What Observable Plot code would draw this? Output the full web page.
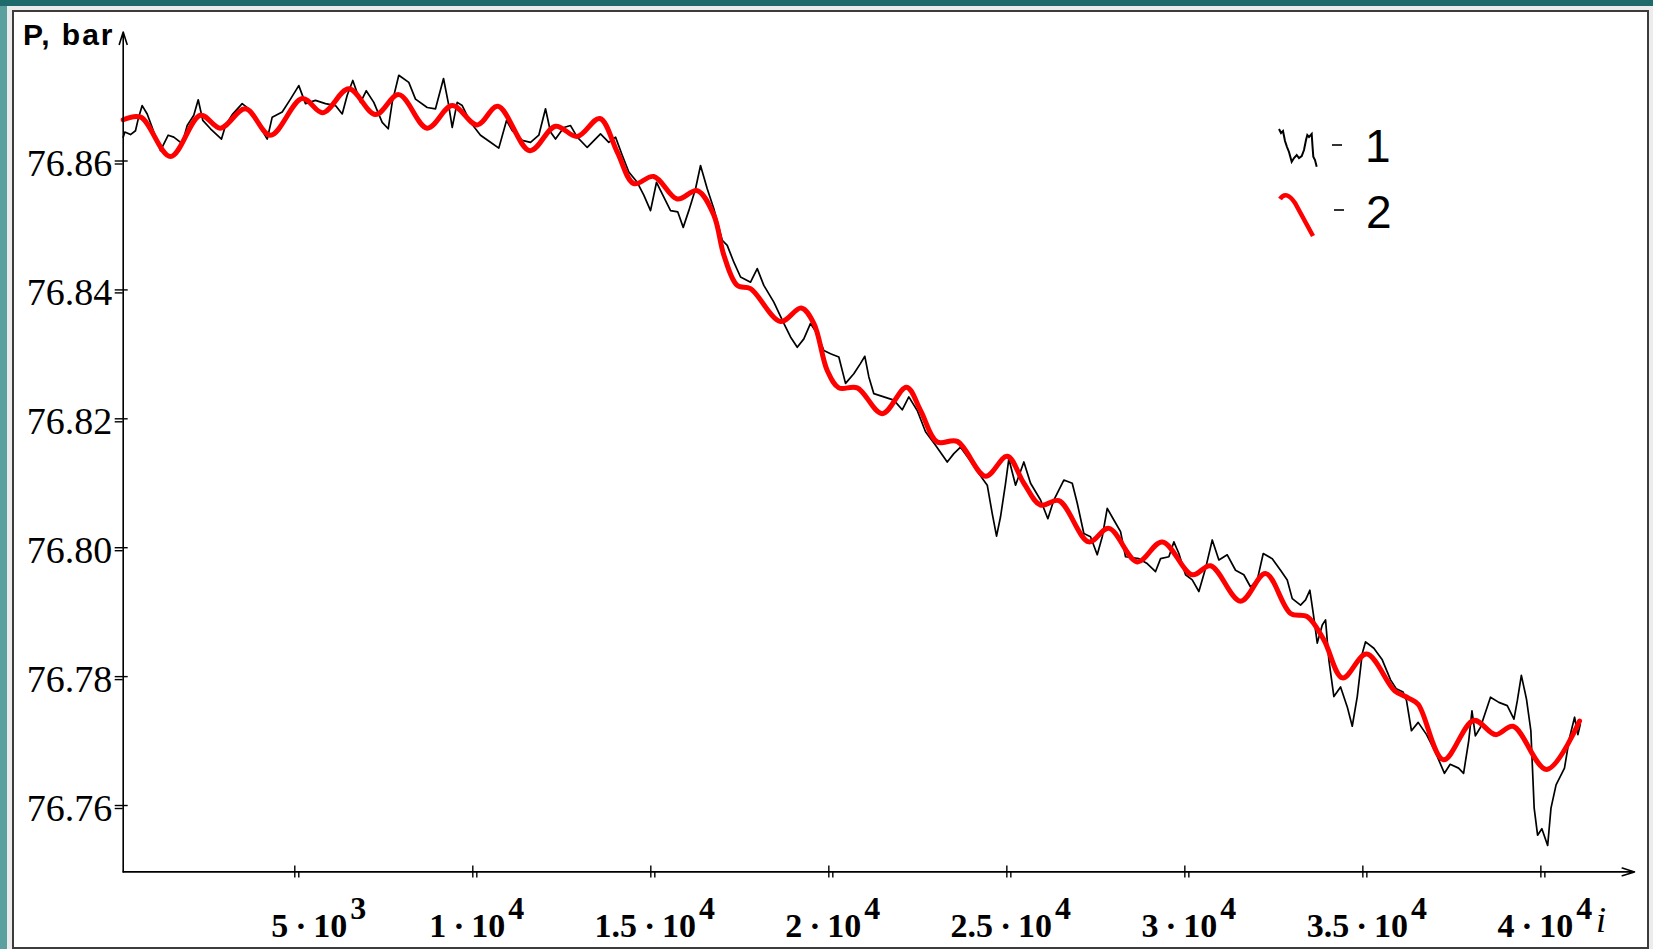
<!DOCTYPE html>
<html><head><meta charset="utf-8">
<script src="https://cdn.jsdelivr.net/npm/d3@7"></script>
<script src="https://cdn.jsdelivr.net/npm/@observablehq/plot@0.6"></script>
<style>
html,body{margin:0;padding:0;}
body{width:1653px;height:949px;position:relative;overflow:hidden;background:#5b9f9f;}
#topband{position:absolute;left:0;top:0;width:1653px;height:6px;background:#1f6b6b;}
#panel{position:absolute;left:7px;top:6px;width:1646px;height:943px;background:#ececec;}
#frame{position:absolute;left:12px;top:10px;width:1633px;height:935px;border:2px solid #3c3c3c;background:#fff;}
#chart{position:absolute;left:0;top:0;}
#overlay{position:absolute;left:0;top:0;}
</style></head>
<body>
<div id="topband"></div>
<div id="panel"></div>
<div id="frame"></div>
<div id="chart"></div>
<svg id="overlay" width="1653" height="949" xmlns="http://www.w3.org/2000/svg">
  <text x="23" y="45" font-family="Liberation Sans, Arial, sans-serif" font-weight="bold" font-size="30" letter-spacing="2" fill="#000">P, bar</text>
  <path d="M1279,129 L1281,133 1283,131 1285,141 1287,147 1289,152 1291.7,161.7 1294,158 1296.7,155 1299,158 1301.7,156 1304,150 1306,140 1307.3,135 1309,137 1311.7,134 1312.5,146 1313.3,156.7 1315,160 1316.7,166.7" fill="none" stroke="#000" stroke-width="2"/>
  <line x1="1332" y1="145" x2="1342" y2="145" stroke="#000" stroke-width="1.6"/>
  <text x="1365" y="162" font-family="Liberation Sans, Arial, sans-serif" font-size="46" fill="#000">1</text>
  <path d="M1280,199 C1284,193 1289,194 1295,203 L1313,236" fill="none" stroke="#ff0000" stroke-width="4.5"/>
  <line x1="1334" y1="210" x2="1344" y2="210" stroke="#000" stroke-width="1.6"/>
  <text x="1366" y="228" font-family="Liberation Sans, Arial, sans-serif" font-size="46" fill="#000">2</text>
  <text x="1596" y="932" font-family="Liberation Serif, serif" font-style="italic" font-size="36" fill="#000">i</text>
</svg>
<script>
// ---- data ----
const seriesNames = ["1", "2"];
const blackI = [180,225,385,525,601,713,854,994,1228,1444,1601,1837,1978,2163,2287,2416,2632,2941,3053,3242,3522,3708,3896,4225,4365,4646,4879,5112,5301,5581,5862,6143,6332,6472,6629,6846,7006,7219,7455,7624,7736,7921,8202,8390,8719,8952,9177,9309,9421,9562,9702,9935,10216,10497,10730,10947,11107,11388,11621,11854,12042,12183,12323,12556,12745,12933,13214,13587,13820,14009,14197,14382,14618,14803,14992,15160,15320,15554,15758,15910,16067,16256,16396,16584,16770,17006,17146,17332,17520,17801,17989,18174,18455,18736,18924,19113,19298,19486,19674,19860,20048,20281,20469,20702,20891,21011,21124,21264,21545,21826,22062,22247,22483,22716,22997,23326,23511,23699,23933,24213,24450,24590,24711,24823,24964,25056,25245,25478,25666,25947,26152,26320,26601,26837,26978,27163,27351,27539,27680,27820,28006,28194,28334,28708,28928,29177,29318,29551,29691,29832,30020,30208,30394,30582,30770,30956,31191,31424,31657,31846,32034,32202,32455,32688,32876,33017,33250,33391,33511,33607,33719,33860,33952,34045,34186,34374,34562,34702,34843,34983,35076,35309,35545,35778,35941,36130,36225,36365,36554,36789,37028,37292,37452,37689,37829,37972,38065,38160,38301,38585,38820,39056,39244,39340,39452,39596,39719,39812,39908,40028,40191,40284,40427,40663,40804,40947,41040,41107];
const blackP = [76.8637,76.8645,76.8641,76.8647,76.8665,76.8686,76.8673,76.8652,76.8616,76.8640,76.8637,76.8627,76.8655,76.8671,76.8695,76.8663,76.8650,76.8634,76.8655,76.8672,76.8689,76.8681,76.8665,76.8634,76.8668,76.8676,76.8696,76.8717,76.8689,76.8694,76.8689,76.8686,76.8673,76.8702,76.8725,76.8691,76.8709,76.8691,76.8660,76.8650,76.8691,76.8733,76.8722,76.8696,76.8683,76.8681,76.8728,76.8691,76.8652,76.8691,76.8686,76.8660,76.8640,76.8629,76.8620,76.8663,76.8647,76.8632,76.8629,76.8640,76.8681,76.8645,76.8634,76.8652,76.8655,76.8637,76.8621,76.8642,76.8629,76.8637,76.8609,76.8583,76.8567,76.8547,76.8523,76.8567,76.8549,76.8523,76.8521,76.8497,76.8523,76.8557,76.8593,76.8557,76.8526,76.8477,76.8469,76.8443,76.8420,76.8412,76.8433,76.8407,76.8381,76.8348,76.8327,76.8311,76.8324,76.8348,76.8332,76.8306,76.8301,76.8296,76.8255,76.8270,76.8286,76.8297,76.8265,76.8239,76.8234,76.8229,76.8214,76.8234,76.8213,76.8180,76.8159,76.8133,76.8146,76.8156,76.8138,76.8115,76.8097,76.8053,76.8018,76.8048,76.8100,76.8138,76.8097,76.8133,76.8100,76.8074,76.8045,76.8074,76.8105,76.8100,76.8069,76.8022,76.8017,76.7989,76.8017,76.8061,76.8043,76.8025,76.7986,76.7983,76.7976,76.7963,76.7983,76.7986,76.8009,76.7991,76.7958,76.7950,76.7932,76.7968,76.8012,76.7981,76.7989,76.7965,76.7958,76.7939,76.7950,76.7991,76.7983,76.7965,76.7950,76.7921,76.7911,76.7919,76.7934,76.7898,76.7852,76.7880,76.7888,76.7826,76.7769,76.7784,76.7753,76.7723,76.7769,76.7836,76.7854,76.7844,76.7826,76.7795,76.7781,76.7776,76.7763,76.7716,76.7729,76.7710,76.7684,76.7650,76.7664,76.7658,76.7650,76.7700,76.7747,76.7708,76.7721,76.7768,76.7760,76.7755,76.7734,76.7763,76.7802,76.7765,76.7716,76.7596,76.7554,76.7564,76.7538,76.7596,76.7632,76.7658,76.7705,76.7737,76.7710,76.7726];
const redI = [180,670,1510,2350,2910,3615,4317,5208,5787,6517,7267,7921,8719,9421,10124,10702,11601,12323,12933,13567,14056,14523,15084,15742,16303,16770,17051,17427,17801,18643,19225,19579,19955,20281,20798,21500,22183,22576,23045,23607,24402,25011,25478,25947,26461,27303,27865,28663,29365,30208,30722,31565,32267,32969,33438,33905,34430,35104,35893,36273,36554,37264,38113,38728,39217,40163,41087];
const redP = [76.8664,76.8668,76.8607,76.8671,76.8651,76.8681,76.8640,76.8697,76.8675,76.8712,76.8672,76.8703,76.8651,76.8686,76.8656,76.8685,76.8616,76.8654,76.8638,76.8666,76.8614,76.8565,76.8576,76.8541,76.8554,76.8516,76.8454,76.8407,76.8402,76.8351,76.8372,76.8348,76.8275,76.8248,76.8248,76.8208,76.8249,76.8213,76.8164,76.8165,76.8111,76.8142,76.8100,76.8066,76.8073,76.8009,76.8030,76.7978,76.8009,76.7958,76.7972,76.7917,76.7960,76.7898,76.7893,76.7857,76.7798,76.7835,76.7778,76.7767,76.7757,76.7671,76.7732,76.7710,76.7723,76.7656,76.7731];
const xTicks = [5000,10000,15000,20000,25000,30000,35000,40000];
const xTickLabels = ["5\u2009·\u200910^3","1\u2009·\u200910^4","1.5\u2009·\u200910^4","2\u2009·\u200910^4","2.5\u2009·\u200910^4","3\u2009·\u200910^4","3.5\u2009·\u200910^4","4\u2009·\u200910^4"];
const yTicks = [76.76,76.78,76.80,76.82,76.84,76.86];
const xDomain = [180, 42630];
const yDomain = [76.7497, 76.88];

const blackRows = blackI.map((i, k) => ({i, p: blackP[k], s: seriesNames[0]}));
const redRows = redI.map((i, k) => ({i, p: redP[k], s: seriesNames[1]}));

const serif = "Liberation Serif, Times New Roman, serif";
const chart = Plot.plot({
  width: 1653, height: 949,
  marginLeft: 122.7, marginRight: 19, marginTop: 31.6, marginBottom: 77.6,
  style: {background: "transparent", overflow: "visible"},
  x: {domain: xDomain, axis: null},
  y: {domain: yDomain, axis: null},
  marks: [
    Plot.line(blackRows, {x: "i", y: "p", stroke: "#000", strokeWidth: 1.7}),
    Plot.line(redRows, {x: "i", y: "p", stroke: "#ff0000", strokeWidth: 5, curve: "catmull-rom"}),
    Plot.arrow([0], {x1: () => xDomain[0], y1: () => yDomain[0], x2: () => xDomain[1], y2: () => yDomain[0], stroke: "#000", strokeWidth: 1.6, headLength: 12, headAngle: 35}),
    Plot.arrow([0], {x1: () => xDomain[0], y1: () => yDomain[0], x2: () => xDomain[0], y2: () => yDomain[1], stroke: "#000", strokeWidth: 1.6, headLength: 12, headAngle: 35}),
    Plot.axisX({ticks: xTicks, tickSize: 12, dy: -6, tickFormat: () => "", label: null, color: "#000", strokeWidth: 1.4}),
    Plot.axisX({ticks: xTicks, tickSize: 6, tickPadding: 35, tickFormat: d => xTickLabels[xTicks.indexOf(d)], label: null, fontSize: 34, fontFamily: serif, fontWeight: "bold", dx: 4, color: "#000", strokeWidth: 1.4}),
    Plot.axisY({ticks: yTicks, tickSize: 13, dx: 5, tickFormat: () => "", label: null, color: "#000", strokeWidth: 1.4}),
    Plot.axisY({ticks: yTicks, tickSize: 8, tickPadding: 3, tickFormat: d => d.toFixed(2), label: null, fontSize: 38, fontFamily: serif, dy: 3, color: "#000", strokeWidth: 1.4})
  ]
});
document.getElementById("chart").appendChild(chart);

const ns = "http://www.w3.org/2000/svg";
chart.querySelectorAll('g[aria-label="x-axis tick label"] text').forEach((t) => {
  const s = t.textContent;
  if (!s.includes("^")) return;
  const [base, sup] = s.split("^");
  t.textContent = "";
  const a = document.createElementNS(ns, "tspan");
  a.textContent = base;
  t.appendChild(a);
  const b = document.createElementNS(ns, "tspan");
  b.setAttribute("dy", "-18");
  b.setAttribute("dx", "3");
  b.setAttribute("font-size", "32");
  b.textContent = sup;
  t.appendChild(b);
  if (base.startsWith("5")) t.setAttribute("dx", "20");
});
</script>
</body></html>
